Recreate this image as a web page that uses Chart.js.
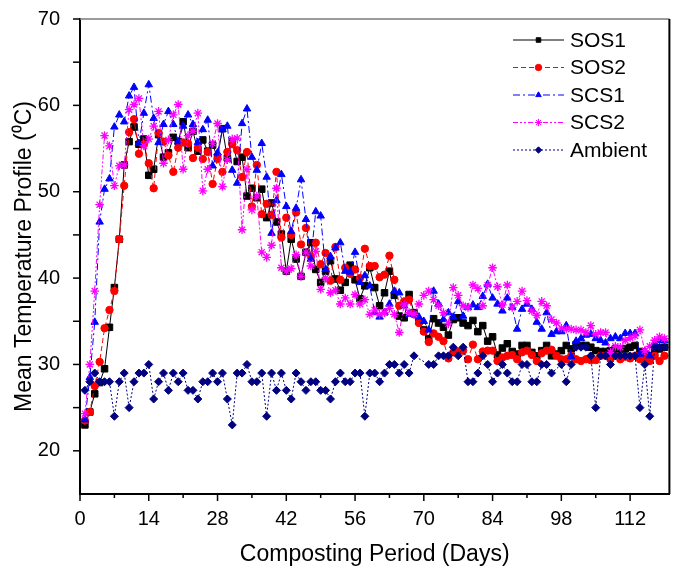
<!DOCTYPE html>
<html>
<head>
<meta charset="utf-8">
<script src="https://cdn.jsdelivr.net/npm/chart.js@4.4.1/dist/chart.umd.min.js"></script>
<style>
html,body{margin:0;padding:0;background:#fff;}
canvas{display:block;}
</style>
</head>
<body>
<canvas id="c" width="675" height="568"></canvas>
<script>
const days = [1,2,3,4,5,6,7,8,9,10,11,12,13,14,15,16,17,18,19,20,
21,22,23,24,25,26,27,28,29,30,31,32,33,34,35,36,37,38,39,40,
41,42,43,44,45,46,47,48,49,50,51,52,53,54,55,56,57,58,59,60,
61,62,63,64,65,66,67,68,69,70,71,72,73,74,75,76,77,78,79,80,
81,82,83,84,85,86,87,88,89,90,91,92,93,94,95,96,97,98,99,100,
101,102,103,104,105,106,107,108,109,110,111,112,113,114,115,116,117,118,119];

const sos1 = [23.0,24.5,26.6,27.9,29.5,34.3,38.9,44.5,53.1,55.8,
57.5,55.5,56.1,51.9,52.6,56.6,54.0,54.5,56.3,55.8,
58.1,55.1,57.0,54.7,56.0,54.7,55.4,54.0,57.3,53.9,
55.8,53.5,54.0,49.5,50.4,49.3,50.3,47.0,48.7,46.5,
45.1,40.8,44.5,42.2,40.2,43.0,44.1,41.0,39.5,40.8,
42.0,39.9,38.6,39.5,41.5,39.8,37.6,39.1,41.2,38.9,
36.8,38.3,40.8,38.0,35.6,35.4,38.1,36.0,35.0,34.0,
33.0,35.3,34.8,34.3,33.4,35.2,35.4,34.8,34.5,35.1,
33.8,34.5,32.7,33.2,31.1,31.9,32.4,31.5,31.2,32.2,
32.2,31.4,31.0,31.6,32.2,31.0,31.2,31.6,32.2,31.8,
32.3,32.2,32.2,32.0,31.6,31.5,31.5,31.6,31.8,31.8,
31.8,32.0,32.2,31.5,31.2,31.0,31.5,31.8,32.0];

const sos2 = [23.5,24.5,27.5,30.3,34.2,36.3,38.5,44.5,50.7,56.9,
58.4,54.4,55.5,53.3,50.4,56.8,55.8,54.2,52.3,55.1,
55.7,55.6,53.9,55.1,53.8,54.6,50.9,53.8,52.3,54.6,
55.5,54.8,51.7,54.6,48.3,53.1,47.4,48.6,47.3,52.3,
44.7,47.0,45.0,47.6,43.9,45.8,42.5,44.1,41.6,42.9,
39.7,43.6,39.8,41.2,40.5,41.0,40.0,43.4,41.4,41.4,
40.1,40.4,42.6,39.8,36.8,37.3,37.5,35.8,34.8,33.8,
32.6,33.6,33.2,32.7,30.7,31.4,31.5,31.6,30.6,32.3,
30.6,31.5,31.6,31.6,30.4,30.8,31.0,31.1,30.6,31.4,
31.6,31.1,30.4,31.3,31.6,31.7,31.0,30.6,30.6,31.0,
30.6,30.4,30.6,30.5,30.5,31.0,31.0,30.6,31.0,30.6,
30.9,30.7,31.0,30.6,30.8,30.4,31.0,30.4,31.0];

const scs1 = [23.6,28.5,34.9,46.5,50.3,51.5,57.5,58.9,58.1,61.1,
62.1,55.6,59.1,62.4,58.5,55.7,57.8,59.3,57.8,55.8,
57.6,58.9,57.8,55.7,57.2,58.3,53.0,54.5,57.2,57.6,
52.5,51.0,57.9,59.6,54.0,52.5,55.6,51.7,45.2,49.0,
52.0,48.3,45.4,48.1,51.4,46.8,42.2,47.7,47.2,41.0,
42.5,43.5,44.1,40.8,40.7,43.0,39.5,40.3,39.1,36.0,
35.5,36.0,37.0,38.5,38.3,36.8,35.8,35.8,35.5,35.0,
34.0,38.5,37.0,35.2,36.0,35.5,37.3,35.6,36.6,36.9,
36.6,37.9,39.3,37.7,37.0,36.2,37.7,36.6,34.1,36.4,
37.0,36.4,34.9,34.1,36.0,33.5,33.8,33.8,34.5,30.9,
32.7,33.0,33.4,33.5,33.0,32.8,32.5,33.0,33.2,33.0,
33.6,33.6,33.6,31.2,31.5,31.0,32.5,32.8,32.8];

const scs2 = [24.3,30.0,38.5,48.5,56.5,55.3,50.7,53.0,53.1,59.5,
60.1,60.8,55.3,56.1,57.6,59.3,53.3,56.0,58.9,60.1,
52.6,56.5,57.0,59.1,50.1,52.6,55.6,57.9,50.6,53.7,
56.1,56.2,45.6,52.6,47.9,49.5,43.0,42.4,43.8,50.4,
41.2,40.8,41.1,42.7,40.2,43.0,41.4,43.1,38.7,40.0,
38.3,38.6,37.0,37.7,37.0,38.1,37.0,37.5,35.8,36.3,
35.8,36.0,36.5,35.8,33.7,36.9,36.0,35.8,37.0,38.0,
38.5,37.5,36.8,36.0,34.7,38.9,38.0,36.8,36.6,39.2,
38.8,36.8,39.2,41.2,39.0,36.9,39.2,36.6,37.3,38.5,
37.4,36.2,35.7,37.3,36.8,35.2,34.8,34.2,34.1,34.1,
34.0,34.0,33.7,34.5,33.5,33.7,33.7,31.4,32.1,32.0,
32.8,33.1,33.3,34.0,31.6,32.1,32.8,33.2,33.0];

const ambient = [27,28,29,28,28,28,24,28,29,25,
28,29,29,30,26,28,29,27,29,28,
29,27,27,26,28,28,29,28,29,26,
23,29,29,30,28,28,29,24,29,27,
29,27,26,29,28,27,28,28,27,27,
26,28,29,28,28,29,29,24,29,29,
28,29,30,30,29,30,29,31,null,null,
30,30,31,31,31,32,31,32,28,28,
29,31,30,28,29,30,29,28,28,30,
30,28,28,30,30,29,null,30,28,30,
32,32,32,31,25,31,31,30,31,31,
31,31,31,25,30,24,32,32,32];

const seriesNames = ['SOS1','SOS2','SCS1','SCS2','Ambient'];
const xTickLabels = [0,14,28,42,56,70,84,98,112];
const yTickLabels = [20,30,40,50,60,70];
const xTitle = 'Composting Period (Days)';
const yTitle = 'Mean Temperature Profile (\u2070C)';

const FONT = "'Liberation Sans', Arial, Helvetica, sans-serif";
const pts = arr => days.map((d,i) => ({x:d, y:arr[i]}));

const styles = [
  {color:'#000000', dash:[], point:'rect', r:4.6, order:4},
  {color:'#FF0000', dash:[5,3], point:'circle', r:3.7, order:3},
  {color:'#0000FF', dash:[7,3,2,3], point:'triangle', r:4.3, order:2},
  {color:'#FF00FF', dash:[5,2,2,2,2,2], point:'star', r:4.3, order:1},
  {color:'#000080', dash:[2,2], point:'rectRot', r:4.0, order:0}
];
const seriesData = [sos1, sos2, scs1, scs2, ambient];

const datasets = seriesData.map((arr,i) => ({
  label: seriesNames[i],
  data: pts(arr),
  borderColor: styles[i].color,
  backgroundColor: styles[i].color,
  borderWidth: 1,
  borderDash: styles[i].dash,
  pointStyle: styles[i].point,
  pointRadius: styles[i].r,
  pointBorderWidth: styles[i].point === 'star' ? 1.3 : 1,
  pointBackgroundColor: styles[i].color,
  pointBorderColor: styles[i].color,
  tension: 0,
  spanGaps: true,
  order: styles[i].order
}));

const framePlugin = {
  id: 'frame',
  afterDraw(chart) {
    const {ctx, chartArea:a, scales} = chart;
    ctx.save();
    ctx.setLineDash([]);
    ctx.strokeStyle = '#7a7a7a'; ctx.lineWidth = 1.5;
    ctx.beginPath(); ctx.moveTo(a.left, a.top); ctx.lineTo(a.right, a.top); ctx.stroke();
    ctx.strokeStyle = '#000'; ctx.lineWidth = 2;
    ctx.beginPath(); ctx.moveTo(a.right, a.top); ctx.lineTo(a.right, a.bottom); ctx.stroke();
    ctx.lineWidth = 1.5; ctx.strokeStyle = '#000';
    scales.x.ticks.forEach(t => {
      if (t.value > 119.5) return;
      const x = scales.x.getPixelForValue(t.value);
      const len = xTickLabels.includes(t.value) ? 7 : 4;
      ctx.beginPath(); ctx.moveTo(x, a.bottom); ctx.lineTo(x, a.bottom + len); ctx.stroke();
    });
    scales.y.ticks.forEach(t => {
      if (t.value < 19.9) return;
      const y = scales.y.getPixelForValue(t.value);
      ctx.beginPath(); ctx.moveTo(a.left - 7, y); ctx.lineTo(a.left, y); ctx.stroke();
    });
    chart.data.datasets.forEach((ds, i) => {
      const y = 40 + i * 27.5;
      ctx.strokeStyle = ds.borderColor; ctx.fillStyle = ds.borderColor;
      ctx.lineWidth = 1; ctx.setLineDash(ds.borderDash);
      ctx.beginPath(); ctx.moveTo(513, y); ctx.lineTo(564, y); ctx.stroke();
      ctx.setLineDash([]);
      Chart.helpers.drawPoint(ctx, {pointStyle: ds.pointStyle, radius: ds.pointStyle==='star'?3.6:3.2, borderWidth: ds.pointStyle==='star'?1.2:1, rotation:0}, 538.5, y);
      ctx.fillStyle = '#000';
      ctx.font = '21px ' + FONT;
      ctx.textAlign = 'left'; ctx.textBaseline = 'middle';
      ctx.fillText(ds.label, 570, y + 1);
    });
    ctx.restore();
  }
};

new Chart(document.getElementById('c'), {
  type: 'line',
  data: { datasets },
  options: {
    responsive: false,
    animation: false,
    devicePixelRatio: 1,
    layout: { padding: { left: 0, right: 3, top: 19, bottom: 0 } },
    plugins: { legend: { display: false }, tooltip: { enabled: false } },
    scales: {
      x: {
        type: 'linear', min: 0, max: 120, position: 'bottom',
        grid: { display: false, drawTicks: false },
        border: { display: true, color: '#000', width: 2 },
        ticks: {
          stepSize: 7, autoSkip: false, maxRotation: 0, padding: 13, color: '#000',
          font: { size: 20, family: FONT },
          callback: v => xTickLabels.includes(v) ? String(v) : ''
        },
        title: { display: true, text: xTitle, color: '#000', font: { size: 23, family: FONT }, padding: { top: 0, bottom: 0 } },
        afterFit: s => { s.height = 74; s.paddingLeft = 0; s.paddingRight = 0; }
      },
      y: {
        min: 15, max: 70,
        grid: { display: false, drawTicks: false },
        border: { display: true, color: '#000', width: 2 },
        ticks: {
          stepSize: 5, autoSkip: false, padding: 20, color: '#000',
          font: { size: 20, family: FONT },
          callback: v => yTickLabels.includes(v) ? String(v) : ''
        },
        title: { display: true, text: yTitle, color: '#000', font: { size: 23, family: FONT }, padding: { top: 11, bottom: 0 } },
        afterFit: s => { s.width = 80; s.paddingTop = 0; s.paddingBottom = 0; }
      }
    }
  },
  plugins: [framePlugin]
});
</script>
</body>
</html>
